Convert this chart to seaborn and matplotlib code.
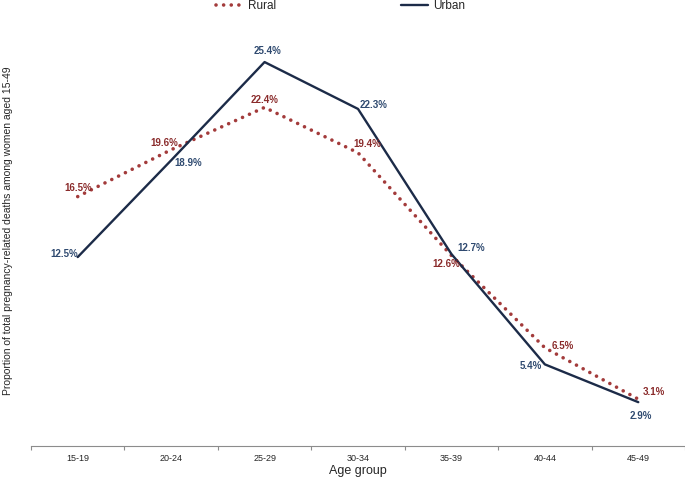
import pandas as pd
import seaborn as sns
import matplotlib.pyplot as plt
from matplotlib.lines import Line2D

# Data
age_groups = ["15-19", "20-24", "25-29", "30-34", "35-39", "40-44", "45-49"]
rural = [16.5, 19.6, 22.4, 19.4, 12.6, 6.5, 3.1]
urban = [12.5, 18.9, 25.4, 22.3, 12.7, 5.4, 2.9]

rural_color = "#A33B3B"
rural_text = "#8A2B2B"
urban_color = "#1C2B48"
urban_text = "#2F4A70"

sns.set_style("white")
plt.rcParams["font.family"] = ["Liberation Sans", "DejaVu Sans"]

df = pd.DataFrame({"age": age_groups, "Rural": rural, "Urban": urban})

fig = plt.figure(figsize=(6.85, 4.8), dpi=100)
ax = fig.add_axes([31 / 685, 34 / 480, 654 / 685, 0.8975])

sns.lineplot(data=df, x="age", y="Rural", ax=ax, color=rural_color,
             linewidth=2.6, linestyle=(0, (0.01, 2.1)),
             dash_capstyle="round", sort=False)
sns.lineplot(data=df, x="age", y="Urban", ax=ax, color=urban_color,
             linewidth=1.7, sort=False)

ax.set_xlim(-0.5, 6.5)
ax.set_ylim(0, 28.5)

# value labels (offsets in points, alignment)
rural_off = [(0, 6, "center"), (-5, 5, "center"), (0, 5, "center"), (-3, 6, "left"),
             (-4, -6, "center"), (5, 1, "left"), (3, 5, "left")]
urban_off = [(0, 2, "right"), (2, -2, "left"), (2, 8, "center"), (1, 3, "left"),
             (4, 4, "left"), (-2, -1, "right"), (2, -10, "center")]

for i, (v, (dx, dy, ha)) in enumerate(zip(rural, rural_off)):
    ax.annotate(f"{v}%", (i, v), xytext=(dx, dy), textcoords="offset points",
                ha=ha, va="center", fontsize=7, fontweight="bold", color=rural_text)
for i, (v, (dx, dy, ha)) in enumerate(zip(urban, urban_off)):
    ax.annotate(f"{v}%", (i, v), xytext=(dx, dy), textcoords="offset points",
                ha=ha, va="center", fontsize=7, fontweight="bold", color=urban_text)

# axes styling
for s in ["top", "right", "left"]:
    ax.spines[s].set_visible(False)
ax.spines["bottom"].set_color("#8C8C8C")
ax.spines["bottom"].set_linewidth(0.8)
ax.set_yticks([])
ax.set_xticks(range(len(age_groups)))
ax.set_xticklabels(age_groups)
ax.set_xticks([i - 0.5 for i in range(len(age_groups) + 1)], minor=True)
ax.tick_params(axis="x", which="major", length=0, pad=6, labelsize=6.5)
ax.tick_params(axis="x", which="minor", length=3, width=0.8, color="#8C8C8C",
               direction="out", bottom=True)

ax.set_xlabel("Age group", fontsize=9)
ax.xaxis.set_label_coords(0.5, -0.045)
ax.set_ylabel("Proportion of total pregnancy-related deaths among women aged 15-49",
              fontsize=7.5)
ax.yaxis.set_label_coords(-0.028, 0.5)

handles = [
    Line2D([0], [0], color=rural_color, linewidth=2.6, linestyle=(0, (0.01, 2.1)),
           dash_capstyle="round"),
    Line2D([0], [0], color=urban_color, linewidth=1.7),
]
fig.legend(handles, ["Rural", "Urban"], loc="center", ncol=2,
           bbox_to_anchor=(0.497, 1 - 6 / 480), frameon=False, fontsize=8.5,
           handlelength=2.3, handletextpad=0.4, columnspacing=10.6)

fig.savefig("out.png", dpi=100)
